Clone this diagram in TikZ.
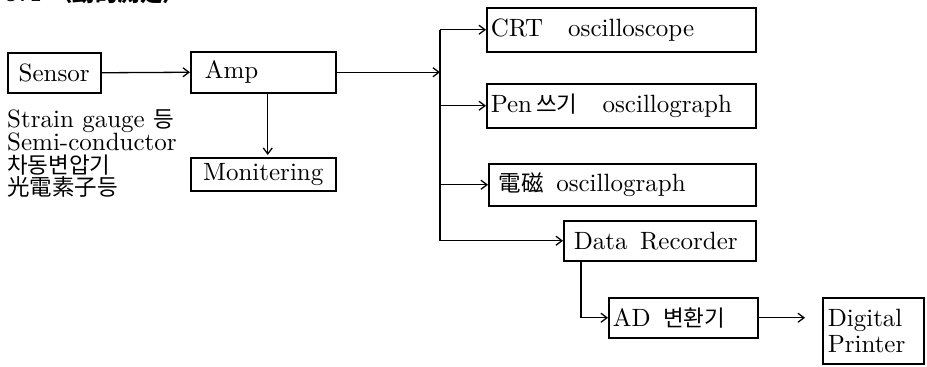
\documentclass[tikz,border=0pt]{standalone}
\usepackage{fontspec}
\setmainfont{lmroman10-regular}[Extension=.otf, BoldFont=lmroman10-bold]
\newfontfamily\kr{Noto Sans CJK KR}[Scale=0.9]
\usetikzlibrary{arrows.meta}
\newcommand{\bigtext}{\fontsize{25}{22.5}\selectfont}
\tikzset{
  box/.style={draw, line width=1.5pt, anchor=north west, inner ysep=0pt,
    align=left, font=\bigtext},
  arr/.style={line width=1.3pt, -{Straight Barb[length=6pt,width=9pt,line width=1.3pt]}},
  wire/.style={line width=1.3pt}
}
\begin{document}
\begin{tikzpicture}[x=1pt,y=-1pt]
\useasboundingbox (0,0) rectangle (927,367);
\clip (0,0) rectangle (927,367);

% heading line, mostly above the frame
\node[anchor=base west, inner sep=0pt, font=\bigtext\bfseries] (head) at (4,1.5)
  {5.4 {\kr\bfseries 〈動的測定〉}};

% boxes
\node[box, align=center, inner xsep=0pt, text width=93pt, minimum height=40pt] (sensor) at (7,52) {Sensor};
\node[box, inner xsep=14pt, text width=117pt, minimum height=41pt] (amp) at (190,51) {Amp};
\node[box, align=center, inner xsep=0pt, text width=145pt, minimum height=33pt] (mon) at (190,157) {Monitering};

\node[box, inner xsep=4pt, text width=261pt, minimum height=44pt] (crt) at (486,7) {CRT\quad oscilloscope};
\node[box, inner xsep=4pt, text width=261pt, minimum height=44pt] (pen) at (486,83) {Pen\,{\kr 쓰기}\enspace\, oscillograph};
\node[box, inner xsep=10pt, text width=247pt, minimum height=42pt] (em) at (488,163) {{\kr 電磁}\enspace oscillograph};
\node[box, inner xsep=10pt, text width=172pt, minimum height=40pt] (rec) at (563,220) {Data\enspace Recorder};
\node[box, inner xsep=4pt, text width=141pt, minimum height=40pt] (ad) at (608,297) {AD\enspace{\kr 변환기}};
\node[box, inner xsep=5pt, inner ysep=3pt, text width=91pt, minimum height=66pt] (prn) at (822,297) {Digital\\[4pt]Printer};

% sensor list
\node[anchor=north west, inner sep=0pt, align=left, font=\bigtext] (list) at (7,109)
  {Strain gauge {\kr 등}\\Semi-conductor\\{\kr 차동변압기}\\{\kr 光電素子등}};

% distribution bus
\coordinate (bus) at (440,0);

% connectors
\draw[arr] (sensor.east) -- (amp.west);
\draw[arr, shorten >=2pt] ([xshift=4.5pt]amp.south) -- ([xshift=4.5pt]mon.north);
\draw[arr] (amp.east) -- (amp.east -| bus);
\draw[wire] (crt.west -| bus) -- (pen.west -| bus);
\draw[arr] (crt.west -| bus) -- (crt.west);
\draw[arr] (pen.west -| bus) -- (pen.west);
\draw[arr] (pen.west -| bus) |- (em.west);
\draw[arr] (em.west -| bus) |- (rec.west);
\draw[arr] ([xshift=18pt]rec.south west) |- (ad.west);
\draw[arr, shorten >=17pt] (ad.east) -- (ad.east -| prn.west);
\end{tikzpicture}
\end{document}
